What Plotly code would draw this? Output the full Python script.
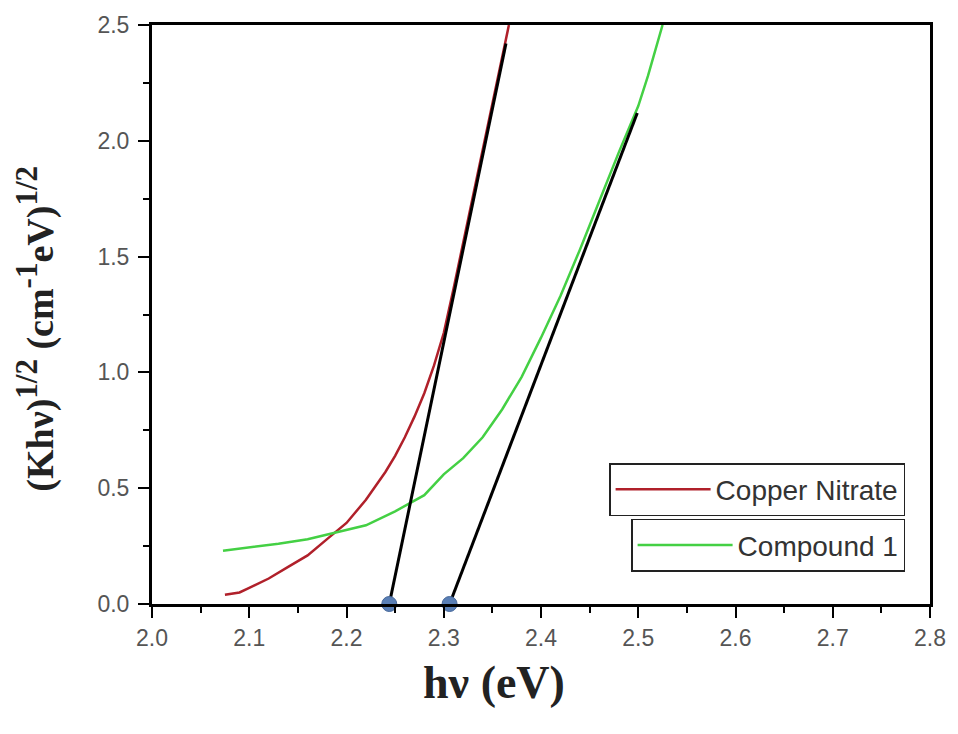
import plotly.graph_objects as go

# Copper Nitrate curve
cu_x = [2.075, 2.09, 2.10, 2.12, 2.14, 2.16, 2.18, 2.20, 2.22, 2.24, 2.25, 2.26, 2.27, 2.28, 2.29, 2.30, 2.31, 2.32, 2.33, 2.34, 2.35, 2.36, 2.367]
cu_y = [0.04, 0.05, 0.07, 0.11, 0.16, 0.21, 0.28, 0.35, 0.45, 0.57, 0.64, 0.72, 0.81, 0.91, 1.03, 1.17, 1.36, 1.56, 1.76, 1.96, 2.16, 2.36, 2.5]

# Compound 1 curve
c1_x = [2.073, 2.10, 2.13, 2.16, 2.19, 2.22, 2.25, 2.28, 2.30, 2.32, 2.34, 2.36, 2.38, 2.40, 2.42, 2.44, 2.46, 2.48, 2.50, 2.51, 2.525]
c1_y = [0.23, 0.245, 0.26, 0.28, 0.31, 0.34, 0.40, 0.47, 0.56, 0.63, 0.72, 0.84, 0.98, 1.15, 1.33, 1.53, 1.74, 1.95, 2.15, 2.28, 2.5]

# Linear extrapolations (Tauc fits)
fit_cu_x = [2.244, 2.364]
fit_cu_y = [0.0, 2.42]
fit_c1_x = [2.306, 2.499]
fit_c1_y = [0.0, 2.12]

# Band gap intercepts
gap_x = [2.244, 2.306]
gap_y = [0.0, 0.0]

x_ticks = [2.0, 2.1, 2.2, 2.3, 2.4, 2.5, 2.6, 2.7, 2.8]
y_ticks = [0.0, 0.5, 1.0, 1.5, 2.0, 2.5]

fig = go.Figure()
fig.add_trace(go.Scatter(x=cu_x, y=cu_y, mode="lines", name="Copper Nitrate",
                         line=dict(color="#b0202a", width=2.5), legend="legend"))
fig.add_trace(go.Scatter(x=c1_x, y=c1_y, mode="lines", name="Compound 1",
                         line=dict(color="#44d044", width=2.5), legend="legend2"))
fig.add_trace(go.Scatter(x=fit_cu_x, y=fit_cu_y, mode="lines", showlegend=False,
                         line=dict(color="black", width=3)))
fig.add_trace(go.Scatter(x=fit_c1_x, y=fit_c1_y, mode="lines", showlegend=False,
                         line=dict(color="black", width=3)))
fig.add_trace(go.Scatter(x=gap_x, y=gap_y, mode="markers", showlegend=False, cliponaxis=False,
                         marker=dict(color="#5a7fb5", size=15, line=dict(color="#46689a", width=1))))

tick_font = dict(family="Arial", size=23, color="#555555")

xaxis = dict(range=[2.0, 2.8], tickmode="array", tickvals=x_ticks,
             ticktext=[f"{v:.1f}" for v in x_ticks], tickfont=tick_font,
             showline=True, linecolor="black", linewidth=3, mirror=True,
             ticks="outside", tickcolor="black", tickwidth=2, ticklen=11,
             showgrid=False, zeroline=False,
             minor=dict(ticks="outside", dtick=0.05, ticklen=6, tickcolor="black", tickwidth=2))
yaxis = dict(range=[0, 2.5], tickmode="array", tickvals=y_ticks,
             ticktext=[f"{v:.1f}" for v in y_ticks], tickfont=tick_font,
             showline=True, linecolor="black", linewidth=3, mirror=True,
             ticks="outside", tickcolor="black", tickwidth=2, ticklen=11,
             showgrid=False, zeroline=False, ticklabelstandoff=4,
             minor=dict(ticks="outside", dtick=0.25, ticklen=6, tickcolor="black", tickwidth=2))

legend_common = dict(bgcolor="white", bordercolor="#222222", borderwidth=1.5,
                     font=dict(family="Arial", size=28, color="#333333"),
                     xanchor="right", yanchor="top", itemwidth=95,
                     tracegroupgap=0)

sup = '<sup><span style="font-size:31px">{}</span></sup>'
y_title = "(Khν)" + sup.format("1/2") + " (cm" + sup.format("-1") + "eV)" + sup.format("1/2")

fig.update_layout(
    width=958, height=734,
    font=dict(family="Arial", size=20, color="#555555"),
    margin=dict(l=152, r=28, t=25, b=130),
    plot_bgcolor="white", paper_bgcolor="white",
    xaxis=xaxis, yaxis=yaxis,
    legend=dict(x=0.968, y=0.2435, **legend_common),
    legend2=dict(x=0.968, y=0.147, **legend_common),
    annotations=[
        dict(text="hν (eV)", xref="paper", yref="paper", x=0.44, y=-0.136,
             xanchor="center", yanchor="middle", showarrow=False,
             font=dict(family="Times New Roman, Liberation Serif", size=46, color="#222222", weight="bold")),
        dict(text=y_title, xref="paper", yref="paper",
             x=-0.150, y=0.476, xanchor="center", yanchor="middle", textangle=-90, showarrow=False,
             font=dict(family="Times New Roman, Liberation Serif", size=38, color="#222222", weight="bold")),
    ],
)

fig.write_html("out.html")
